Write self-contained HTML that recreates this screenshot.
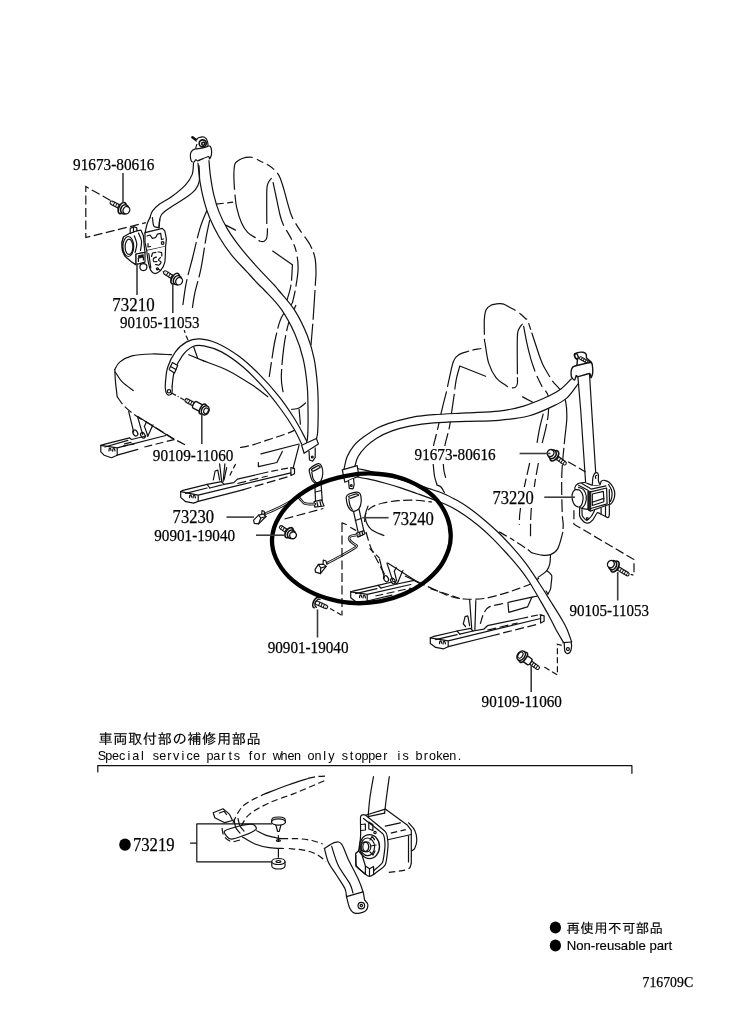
<!DOCTYPE html>
<html lang="ja">
<head>
<meta charset="utf-8">
<title>716709C</title>
<style>
html,body{margin:0;padding:0;background:#fff;}
body{width:729px;height:1032px;overflow:hidden;position:relative;}
svg{position:absolute;left:0;top:0;display:block;filter:grayscale(1);}
.num{font-family:"Liberation Serif",serif;fill:#000;stroke:#000;stroke-width:0.25;}
.jp{font-family:"Liberation Sans","IPAGothic","Noto Sans CJK JP",sans-serif;fill:#000;stroke:#000;stroke-width:0.15;}
.mono{font-family:"Liberation Mono","IPAGothic",monospace;fill:#000;}
.l{fill:none;stroke:#111;stroke-width:1.2;stroke-linecap:round;stroke-linejoin:round;}
.d{fill:none;stroke:#111;stroke-width:1.2;stroke-dasharray:9 3.5;}
.dl{fill:none;stroke:#111;stroke-width:1.2;stroke-dasharray:22 4;}
.w{fill:#fff;stroke:#111;stroke-width:1.2;stroke-linejoin:round;}
</style>
</head>
<body>
<svg width="729" height="1032" viewBox="0 0 729 1032">
<rect width="729" height="1032" fill="#fff"/>
<g id="seat1">
<path class="d" d="M267.5 228.2 C267.4 229.8 267.4 235.6 266.8 237.8 C266.2 240 265.2 240.6 264.1 241.2 C263 241.8 261.2 241.6 260 241.2 C258.8 240.8 258.7 240 256.6 238.5 C254.5 237 250.1 234.9 247.6 232.3 C245.1 229.7 243.3 226.8 241.5 222.7 C239.7 218.6 237.8 212.4 236.7 207.6 C235.6 202.8 235.4 198.9 234.9 193.9 C234.4 188.9 234 182.2 233.9 177.4 C233.8 172.6 234.1 167.7 234.6 165.1 C235.1 162.5 235.3 162.8 236.7 161.7 C238.1 160.5 240.6 159 242.8 158.2 C245 157.4 247.8 157.1 249.7 157.1 C251.6 157.1 252.5 157.4 254.5 158.2 C256.5 159 259.2 160.5 261.5 161.7 C263.8 162.8 265.9 163.6 268.2 165.1 C270.5 166.6 273.2 168.5 275.1 170.6 C277.1 172.7 278.4 174.2 279.9 177.4 C281.4 180.6 282.6 185.2 284 189.8 C285.4 194.4 286.7 200.3 288.1 204.9 C289.5 209.5 290.1 212.9 292.2 217.2 C294.2 221.5 297.4 226.3 300.4 230.9 C303.4 235.5 307.6 240.2 310 244.7 C312.4 249.2 314 253.4 315 258 C316 262.6 315.9 267.8 316 272 C316.1 276.2 315.8 276 315.4 283.2 C315 290.4 314.1 305 313.4 315.3 C312.7 325.6 311.4 340.1 311 345" style="stroke-dasharray:20 4 50 5 46 4.5 7 4 9 4.5 49 5 11 5 14 4 34 4 30 4 40 4"/>
<path class="d" d="M266.8 224.1 C266.8 218.6 266.6 198.1 266.8 191.2 C267 184.3 267.4 185.1 268.2 182.9 C269 180.7 271 178.9 271.6 178.1" style="stroke-dasharray:60 4"/>
<path class="d" d="M273 182.2 C273.6 184.8 275.2 192.6 276.4 198 C277.5 203.4 278.8 210 279.9 214.5 C281 219 281.5 220.9 283.3 224.8 C285.1 228.7 288.7 233.4 290.8 237.8 C292.9 242.2 294.9 246 296.1 251.1 C297.3 256.2 298.2 262.2 298.1 268.4 C298 274.6 296.6 282.3 295.6 288.1 C294.7 293.9 292.9 300.5 292.4 303" style="stroke-dasharray:45 5 11 5 8 5 30 4 26 4"/>
<path class="l" d="M272.7 251.1 L292.4 264.7"/>
<path class="d" d="M292.4 264.7 C292.2 268.1 291.9 279.1 291 285 C290.1 290.9 287.7 297.5 287 300" style="stroke-dasharray:16 4"/>
<path class="d" d="M292.4 303 C290.5 305.5 284.2 311.6 281.3 317.8 C278.4 324 276.8 332.6 275.1 340 C273.5 347.4 272.4 356.1 271.4 362.3 C270.4 368.5 269.6 374.6 269.2 377" style="stroke-dasharray:30 4 26 4"/>
<path class="d" d="M296 305 C294.8 307.9 290.7 315.6 288.7 322.7 C286.7 329.8 285 338.3 283.8 347.4 C282.6 356.5 281.4 369.7 281.3 377.1 C281.2 384.6 282.8 389.6 283.1 392.1" style="stroke-dasharray:28 4 30 4"/>
<path class="d" d="M207 210 C205.8 213.1 202.2 220.7 199.8 228.8 C197.4 236.9 194.7 249.4 192.4 258.5 C190.1 267.6 187.8 275 186.2 283.2 C184.5 291.4 183.1 303.8 182.5 307.9" style="stroke-dasharray:30 4 34 4 26 4"/>
<path class="d" d="M209.7 220.2 C209.1 223.3 207.3 230.7 205.9 238.7 C204.5 246.7 202.8 259.3 201 268.4 C199.2 277.5 196.2 286.5 194.8 293.1 C193.4 299.7 192.8 305.4 192.4 307.9" style="stroke-dasharray:24 4 30 4 30 4"/>
<path class="d" d="M215.8 204.1 L233.1 202.2" style="stroke-dasharray:8 3.5"/>
<path class="l" d="M225.7 225.1 L235.6 230.1"/>
<path class="l" d="M114.8 369.5 C115.6 368.3 116.8 364.4 119.7 362.1 C122.6 359.8 126.7 357.2 132 355.9 C137.3 354.5 145.2 354.2 151.8 354 C158.4 353.8 168.2 354.6 171.5 354.7"/>
<path class="l" d="M114.8 369.5 C114.9 371.6 115.1 377.4 115.5 381.9 C115.9 386.4 116.9 394.2 117.2 396.7"/>
<path class="l" d="M115.2 372 C116.4 373.6 119.2 378.8 122.2 381.9 C125.2 385 131.5 389.1 133.3 390.5"/>
<path class="d" d="M117.2 396.7 C118.4 398.3 121.3 403.2 124.6 406.5 C127.9 409.8 132.1 413 137 416.4 C141.9 419.8 148.6 423.3 154.3 426.8 C160.1 430.3 166.4 434.4 171.5 437.4 C176.6 440.4 182.8 443.6 185.1 444.8"/>
<path class="d" d="M240 447.5 C242.2 447.1 248.4 446.1 253 444.8 C257.6 443.5 263.3 441.4 267.8 439.9 C272.3 438.4 276 437.4 280 436 C284 434.6 288.4 433.1 291.7 431.6 C295 430.1 298.6 427.8 300 427"/>
<path class="l" d="M193.8 347.3 L197.5 357.7"/>
<path class="l" d="M188.8 354.7 L203.6 360.9"/>
<path class="l" d="M203.6 360.9 C207.7 362.5 220.1 366.6 228.3 370.7 C236.5 374.8 246.4 381.3 253 385.6 C259.6 389.9 265.3 394.9 267.8 396.7"/>
<path class="l" d="M184.3 330.5 L185 332.5"/>
<path class="l" d="M186.2 336 L188 340"/>
<path class="l" d="M291.7 409.4 C292.9 409.2 296.7 409.1 299 408 C301.3 406.9 304.4 403.8 305.5 403"/>
<path class="l" d="M299.1 409.4 L300.4 424.2"/>
<path class="l" d="M260.9 453.8 L299.1 444"/>
<path class="l" d="M258.4 462.5 L258.4 466.7 L276.9 462.5 L282.3 451.4"/>
<path class="l" d="M299.1 445.2 L293 468.6"/>
<path class="l" d="M137.8 416.5 L174 439.6"/>
<path class="l" d="M128.7 411.6 L133.7 432.2"/>
<path class="l" d="M137.8 417.3 L142.7 434.6"/>
<path class="l" d="M144.4 426.4 L147.7 435.5"/>
<path class="l" d="M151.8 427.2 L147.7 436.5"/>
<path class="l" d="M144.4 426.4 L146.5 421.8"/>
<path class="l" d="M151.8 427.2 L153 425"/>
<ellipse class="l" cx="135.3" cy="433" rx="2.2" ry="3.2" transform="rotate(-30 135.3 433)"/>
<ellipse class="l" cx="142.9" cy="435.3" rx="2" ry="3" transform="rotate(-30 142.9 435.3)"/>
<path class="l" d="M117.2 447.8 L100.8 445.3 L100.8 451.9 L104.1 455.2 L111.5 457.7 L117.2 455.2 L117.2 447.8 L165.8 435.5"/>
<path class="l" d="M100.8 445.3 L104.9 444.2 L129.6 437.9"/>
<path class="l" d="M104.9 447 L127.9 440.4"/>
<path class="l" d="M117.2 455.2 L137.8 449.4"/>
<path class="d" d="M144.4 447 L174 439.6" style="stroke-dasharray:8 3.5"/>
<path class="d" d="M123 446.2 L134.5 443.8" style="stroke-dasharray:5 2.5"/>
<path class="l" d="M124.5 443.8 L131 442.3"/>
<path class="l" d="M109 451 C109 450.6 109 449.2 109.2 448.8 C109.5 448.4 110.2 448.1 110.5 448.4 C110.8 448.7 110.9 450.1 111 450.5"/>
<path class="l" d="M112.6 451.2 C112.7 450.8 112.7 449.4 113 449 C113.3 448.6 114 448.4 114.3 448.7 C114.6 449 114.9 450.6 115 451"/>
<path class="l" d="M129.6 437.9 L131.5 439.5 L146 436"/>
<path class="l" d="M198.2 495.1 L180.7 491.6 L180.7 497.4 L185.7 501.7 L193.7 503.1 L198.2 501.4 L198.2 495.1 L290.9 472.8"/>
<path class="l" d="M180.7 491.6 L183 490.3 L207.1 484.4 L221.4 481.7 L224 484.4 L209.8 488"/>
<path class="l" d="M207.1 484.4 L209.8 488"/>
<path class="l" d="M224 484.4 L233.8 482.6 L237.4 479.1 L268 472"/>
<path class="d" d="M271.3 471.4 L290.9 467.5" style="stroke-dasharray:7 3"/>
<path class="l" d="M290.9 467.5 L294.5 468.4 L294.5 473.7 L290.9 475.5 L290.9 467.5"/>
<path class="l" d="M185.7 493.3 L207.1 488"/>
<path class="l" d="M198.2 501.4 L242.8 489.8"/>
<path class="d" d="M242.8 489.8 L289.1 476.4" style="stroke-dasharray:9 3.5"/>
<path class="d" d="M237.4 483.5 L267.7 476" style="stroke-dasharray:9 3.5"/>
<path class="l" d="M189.5 497.6 C189.6 497.2 189.6 495.8 189.8 495.4 C190.1 495 190.7 494.7 191 495 C191.3 495.3 191.5 496.8 191.6 497.2"/>
<path class="l" d="M193 498 C193.1 497.6 193.1 496.2 193.4 495.8 C193.7 495.4 194.4 495.1 194.7 495.4 C195 495.7 195.3 497.4 195.4 497.8"/>
<path class="l" d="M213.3 480 L215.1 471 L217.8 470.2 L219.6 480"/>
<path class="l" d="M219.6 463.9 L221.7 481.7"/>
<path class="l" d="M224.9 463.9 L223.1 481.7"/>
<path class="l" d="M226.7 467.5 L224 480"/>
<path class="d" d="M235.6 463.9 L229.4 476.4" style="stroke-dasharray:5 3"/>
</g>
<g id="seat2">
<path class="d" d="M517.4 377.3 C517.4 378.3 517.7 381.9 517.4 383.5 C517.1 385.1 516.6 386.5 515.4 387.2 C514.2 387.9 511.8 387.9 510.2 387.6 C508.6 387.3 508.5 387.2 506.1 385.5 C503.7 383.8 498.7 381.1 495.8 377.3 C492.9 373.5 490.4 368.5 488.6 362.9 C486.8 357.2 485.8 347.3 485.1 343.4 C484.4 339.4 484.6 343.1 484.5 339.2 C484.4 335.3 484.1 324.9 484.3 320 C484.6 315.1 484.9 312.5 486 310 C487.1 307.5 488.7 306.3 491 305.2 C493.3 304.1 497.8 303.8 500 303.6 C502.2 303.5 502.5 303.7 504 304.3 C505.5 304.9 507 305.8 509.2 307 C511.4 308.2 515.5 310.3 517.4 311.5 C519.3 312.7 519.1 312.8 520.5 314 C521.9 315.2 524.5 317.6 525.7 318.7 C526.9 319.8 526.5 317.8 527.7 320.7 C528.9 323.6 531 330.5 532.9 336.2 C534.8 341.9 537.5 350.2 539 354.7 C540.5 359.1 541.1 360.5 542.1 362.9 C543.1 365.3 543.7 366.2 545.2 369 C546.8 371.8 550 377.2 551.4 379.4 C552.8 381.6 551.8 380.3 553.5 382.4 C555.2 384.4 559.7 388.6 561.7 391.7 C563.7 394.8 564.8 396.7 565.6 401.2 C566.5 405.7 567 411.5 566.8 418.5 C566.6 425.5 565.1 433.7 564.3 443.2 C563.5 452.7 562.1 463.8 561.8 475.3 C561.4 486.8 562 504.3 562.2 512.4 C562.4 520.5 563.1 520.7 563.2 524 C563.3 527.3 562.9 530.9 562.8 532.3" style="stroke-dasharray:14 4.5 56 4 58 5 10 4 7 3 48 4.5 12 4 52 4 13 4 13 4 13 4 13 4 13 4 13 4 13 4"/>
<path class="d" d="M517.4 374.2 C517.4 367.9 517 343.9 517.4 336.2 C517.8 328.5 518.6 330 519.5 327.9 C520.4 325.8 522.1 324.5 522.6 323.8" style="stroke-dasharray:60 4"/>
<path class="d" d="M523.6 325.9 C524.1 328.6 525.5 336.8 526.7 342.3 C527.9 347.8 529.4 354 530.8 358.8 C532.2 363.6 533.9 368.2 534.9 371.1 C535.9 374 535.8 373.7 537 376.3 C538.2 378.9 540.2 383.3 542.1 386.6 C544 389.9 547.3 391.8 548.3 396.3 C549.3 400.8 548.7 408.2 548.3 413.6 C547.9 419 546.8 423.5 545.8 428.4 C544.8 433.3 542.7 440.7 542.1 443.2" style="stroke-dasharray:47 5 12 5 30 4 30 4"/>
<path class="d" d="M543.3 413.6 C542.7 416.1 540.6 423.5 539.6 428.4 C538.6 433.3 537.4 440.7 537 443.1" style="stroke-dasharray:30 4"/>
<path class="l" d="M522.6 396.9 L536 404"/>
<path class="d" d="M529.7 463 C529.2 465.3 527.4 473 526.5 477 C525.6 481 524.7 485.3 524.3 487" style="stroke-dasharray:12 4"/>
<path class="d" d="M520.5 508 C520.4 509.3 519.8 513.2 519.6 516 C519.4 518.8 519.4 523.2 519.4 524.7" style="stroke-dasharray:12 4"/>
<path class="d" d="M538.4 463 C538 465.3 536.5 473 535.8 477 C535.1 481 534.5 485.3 534.3 487" style="stroke-dasharray:12 4"/>
<path class="d" d="M531.3 508 C531.2 510.3 530.7 517.1 530.6 522 C530.5 526.9 530.5 534.6 530.5 537.1" style="stroke-dasharray:12 4"/>
<path class="d" d="M481.4 348.5 C479.9 348.8 474.2 349.7 472.2 350.1 C470.1 350.5 471.3 350.2 469.1 351 C466.9 351.8 461.4 353.1 458.8 354.7 C456.2 356.3 455.2 357 453.7 360.8 C452.1 364.6 450.7 372.2 449.5 377.3 C448.3 382.4 447.2 388.6 446.5 391.7 C445.8 394.8 446.3 392.4 445.4 395.8 C444.5 399.2 442.5 407.2 441.3 412.3 C440.1 417.4 439.4 421.6 438.2 426.7 C437 431.8 434.9 439.9 434.1 443.1 C433.3 446.3 433.7 445.5 433.6 446" style="stroke-dasharray:9 3.5 46 4.5 40 4 30 4"/>
<path class="d" d="M433.2 464 C433.4 466 433.9 472.5 434.5 476 C435.1 479.5 436.7 483.7 437.1 485.2" style="stroke-dasharray:30 4"/>
<path class="d" d="M459.8 366 C459.3 367.9 457.6 373.4 456.7 377.3 C455.8 381.2 455.1 386.9 454.7 389.7 C454.3 392.4 454.8 390 454.3 393.8 C453.8 397.6 452.4 406.8 451.6 412.3 C450.8 417.8 450.5 421.6 449.5 426.7 C448.5 431.8 446.2 439.9 445.4 443.1 C444.6 446.3 444.9 445.5 444.8 446" style="stroke-dasharray:24 4.5 36 4 30 4"/>
<path class="d" d="M443.3 464 C443.4 465.2 443.6 468.7 444 471 C444.4 473.3 445.4 476.7 445.7 477.8" style="stroke-dasharray:30 4"/>
<path class="l" d="M459.8 366 L485.6 376.3"/>
<path class="l" d="M437.1 485.2 C437.8 485.5 439.8 485.8 441 487 C442.2 488.2 443.9 491.7 444.5 492.6"/>
<path class="l" d="M562.8 532.3 C562 535 559.9 544.7 557.9 548.4 C555.9 552.1 553.2 553.5 550.5 554.6 C547.8 555.7 545.1 555.5 541.9 555.2 C538.7 554.9 533.1 553.1 531.4 552.7"/>
<path class="d" d="M531.4 552.7 C530.7 552.1 529.8 551 527 549 C524.2 547 518.8 543.6 514.7 541 C510.6 538.4 505.2 535.2 502.3 533.6 C499.4 532 498.2 531.5 497.4 531.1" style="stroke-dasharray:5 3.5 9 3.5"/>
<path class="d" d="M364.6 522 C364.8 520.5 364.8 515.5 366 513 C367.2 510.5 369.2 508.7 372 507 C374.8 505.3 378.7 504.1 383 503 C387.3 501.9 392.6 501.2 397.9 500.7 C403.2 500.2 409.3 500 415 500.2 C420.7 500.4 429.2 501.7 432 502"/>
<path class="l" d="M368 506.1 C367.5 508 364.7 513.8 365.2 517.6 C365.7 521.4 367.8 526.1 370.9 529.1 C374 532.1 381.7 534.4 383.9 535.5"/>
<path class="d" d="M366 532 C366.8 534.7 369 543 371 548 C373 553 375.7 557.5 378 562 C380.3 566.5 383.8 572.8 385 575"/>
<path class="d" d="M405 576 C409.1 577.9 422.2 584.1 429.6 587.4 C437 590.7 443.6 594.1 449.4 596 C455.2 597.9 458.4 598.6 464.2 599 C470 599.4 477.4 599.4 484 598.5 C490.6 597.6 497.9 595.2 503.7 593.6 C509.4 592 514 590.2 518.5 588.6 C523 587 527.5 585.5 530.9 583.7 C534.3 581.9 537.6 579 539 578"/>
<path class="l" d="M550.5 554.6 C550.4 556 550.5 560.5 549.9 563.2 C549.3 565.9 548.8 568.2 546.8 570.6 C544.8 573 539.5 576.3 538.1 577.4"/>
<path class="l" d="M546.8 570.6 C547.4 571.2 551.2 574 551.7 575.6 C552.2 577.2 551.2 582.6 551.1 584.2 C551 585.8 550.9 587.9 550.5 589.1 C550.1 590.3 548.3 593.5 548 594.1"/>
<path class="l" d="M548 594.1 L546 591"/>
<path class="d" d="M480.3 623.9 C480.9 622.1 482.3 616 483.8 613.2 C485.3 610.4 485.9 608.5 489.2 606.9 C492.5 605.3 501.1 604 503.5 603.4" style="stroke-dasharray:9 3.5"/>
<path class="l" d="M507.9 602.5 L508.8 612.3 L527.5 606.9 L532 597.1 L507.9 602.5"/>
<path class="d" d="M532 597.1 L546 594.5" style="stroke-dasharray:6 3"/>
<path class="l" d="M469.6 599.8 L471.7 628.3"/>
<path class="l" d="M475.8 600.7 L474.9 630.1"/>
<path class="l" d="M463.3 623.9 L465.1 616.7 L467.8 615.9 L469.6 625.7"/>
<path class="l" d="M463.3 623.9 L465.5 626.5"/>
<path class="d" d="M369.6 548.3 L379.5 558.2" style="stroke-dasharray:6 3"/>
<path class="l" d="M387.7 563.1 L412.4 578.7 L420.7 583.7"/>
<path class="l" d="M379.5 559 L384.4 577.9"/>
<path class="l" d="M386.9 563.1 L392.7 580.4"/>
<path class="l" d="M394.3 571.3 L396.8 581.2"/>
<path class="l" d="M401.7 573 L397.6 582.9"/>
<path class="l" d="M394.3 571.3 L396.2 567.5"/>
<path class="l" d="M401.7 573 L403 570.5"/>
<ellipse class="l" cx="386.1" cy="578.7" rx="2.2" ry="3.2" transform="rotate(-30 386.1 578.7)"/>
<ellipse class="l" cx="393" cy="581" rx="2" ry="3" transform="rotate(-30 393 581)"/>
<path class="d" d="M430.5 588.6 L460 598.5" style="stroke-dasharray:8 3.5"/>
<path class="l" d="M367.2 594.4 L350.7 591.9 L350.7 597.7 L355.6 601.5 L363 602.3 L367.2 601 L367.2 594.4 L410.8 584.5"/>
<path class="l" d="M350.7 591.9 L354 590.8 L377.9 585.3 L394.3 581.5 L397 584 L381 588"/>
<path class="l" d="M377.9 585.3 L381 588"/>
<path class="l" d="M397 584 L414.1 580.4 L420.7 583.7"/>
<path class="l" d="M355.6 593.7 L377 588.7"/>
<path class="l" d="M367.2 601 L392 595.2"/>
<path class="d" d="M375.4 596 L410.8 588.1" style="stroke-dasharray:8 3.5"/>
<path class="l" d="M359.5 597.6 C359.6 597.2 359.6 595.8 359.8 595.4 C360.1 595 360.7 594.7 361 595 C361.3 595.3 361.5 596.8 361.6 597.2"/>
<path class="l" d="M363 598 C363.1 597.6 363.1 596.2 363.4 595.8 C363.7 595.4 364.4 595.1 364.7 595.4 C365 595.7 365.3 597.4 365.4 597.8"/>
<path class="l" d="M448.2 640.8 L430.3 637.8 L430.3 643.5 L435.7 647.4 L443.7 648.8 L448.2 646.7 L448.2 640.8 L540.6 618.5"/>
<path class="l" d="M430.3 637.8 L433 636.7 L457.1 631 L470.5 628.3 L473.1 631 L459.8 634.2"/>
<path class="l" d="M457.1 631 L459.8 634.2"/>
<path class="l" d="M473.1 631 L483.8 629.2 L487.4 625.7 L521.3 618.5"/>
<path class="d" d="M521.3 618.5 L540 614.6" style="stroke-dasharray:7 3"/>
<path class="l" d="M540 614.6 L544.1 615.9 L544.1 621.2 L540.6 623 L540.6 614.8"/>
<path class="l" d="M435.7 639.6 L457.1 634.6"/>
<path class="l" d="M448.2 646.7 L491 636"/>
<path class="d" d="M491 636 L539.1 623.9" style="stroke-dasharray:9 3.5"/>
<path class="d" d="M487.4 630.1 L517.7 623" style="stroke-dasharray:9 3.5"/>
<path class="l" d="M439.5 643.6 C439.6 643.2 439.6 641.8 439.8 641.4 C440.1 641 440.7 640.7 441 641 C441.3 641.3 441.5 642.8 441.6 643.2"/>
<path class="l" d="M443 644 C443.1 643.6 443.1 642.2 443.4 641.8 C443.7 641.4 444.4 641.1 444.7 641.4 C445 641.7 445.3 643.4 445.4 643.8"/>
</g>
<g id="belt1">
<path class="w" d="M198 163.2 C198.3 166.4 199.1 176 200.1 182.4 C201.1 188.8 202.6 195.7 204.2 201.6 C205.8 207.5 207.2 212.1 209.7 218.1 C212.2 224.1 215.7 231.1 219.3 237.3 C223 243.5 227 249.4 231.6 255.1 C236.2 260.8 242.1 266.6 246.7 271.6 C251.3 276.6 256.1 281.9 259.1 285 C262.1 288.1 261 286.5 264.7 290.5 C268.4 294.5 276.2 302 281.2 309.2 C286.2 316.4 291.2 325.7 294.9 333.9 C298.5 342.1 301.1 349.9 303.1 358.6 C305.2 367.3 306.4 377.5 307.2 386 C308 394.5 307.9 401.4 308 409.4 C308.1 417.4 308.1 428.3 307.8 434.1 C307.6 439.9 306.7 442.4 306.5 444 L316.4 439 C316.6 437.8 317.4 436.5 317.7 431.6 C318 426.7 318.2 417 318.2 409.4 C318.2 401.8 318.2 394.5 317.5 386 C316.8 377.5 315.8 367.1 314.1 358.6 C312.4 350.2 310.4 343.3 307.2 335.3 C304 327.3 299.7 318.2 294.9 310.6 C290.1 303.1 281.8 294.3 278.4 290 C274.9 285.7 277.9 289 274.2 285 C270.5 281 262 272.5 256.3 266.1 C250.6 259.8 244.7 253.1 239.9 246.9 C235.1 240.7 230.9 234.8 227.5 229.1 C224.1 223.4 221.6 218.3 219.3 212.6 C217 206.9 215.3 201 213.8 194.8 C212.3 188.6 211.2 181.3 210.4 175.6 C209.6 169.9 209.2 163 209 160.5Z" style="stroke:none"/>
<path class="l" d="M198 163.2 C198.3 166.4 199.1 176 200.1 182.4 C201.1 188.8 202.6 195.7 204.2 201.6 C205.8 207.5 207.2 212.1 209.7 218.1 C212.2 224.1 215.7 231.1 219.3 237.3 C223 243.5 227 249.4 231.6 255.1 C236.2 260.8 242.1 266.6 246.7 271.6 C251.3 276.6 256.1 281.9 259.1 285 C262.1 288.1 261 286.5 264.7 290.5 C268.4 294.5 276.2 302 281.2 309.2 C286.2 316.4 291.2 325.7 294.9 333.9 C298.5 342.1 301.1 349.9 303.1 358.6 C305.2 367.3 306.4 377.5 307.2 386 C308 394.5 307.9 401.4 308 409.4 C308.1 417.4 308.1 428.3 307.8 434.1 C307.6 439.9 306.7 442.4 306.5 444"/>
<path class="l" d="M209 160.5 C209.2 163 209.6 169.9 210.4 175.6 C211.2 181.3 212.3 188.6 213.8 194.8 C215.3 201 217 206.9 219.3 212.6 C221.6 218.3 224.1 223.4 227.5 229.1 C230.9 234.8 235.1 240.7 239.9 246.9 C244.7 253.1 250.6 259.8 256.3 266.1 C262 272.5 270.5 281 274.2 285 C277.9 289 274.9 285.7 278.4 290 C281.8 294.3 290.1 303.1 294.9 310.6 C299.7 318.2 304 327.3 307.2 335.3 C310.4 343.3 312.4 350.2 314.1 358.6 C315.8 367.1 316.8 377.5 317.5 386 C318.2 394.5 318.2 401.8 318.2 409.4 C318.2 417 318 426.7 317.7 431.6 C317.4 436.5 316.6 437.8 316.4 439"/>
<path class="l" d="M193.5 163.3 C193.3 165.2 193.4 170.9 192.2 174.4 C190.9 177.9 189.3 180.7 186 184.3 C182.7 188 176.7 192.9 172.2 196.3 C167.7 199.7 162.3 202.1 159 204.6 C155.7 207.1 153.9 209 152.4 211.2 C150.9 213.4 150.4 216.6 150 217.7"/>
<path class="l" d="M199 165.7 C199.1 168.2 199.9 177 199.3 181 C198.7 185 197.5 187 195.2 189.8 C192.9 192.6 189.1 195.3 185.3 198 C181.5 200.7 176 203.6 172.2 206.2 C168.4 208.8 164.4 211.4 162.3 213.6 C160.2 215.8 160.4 217.2 159.8 219.4 C159.2 221.6 159.1 225.6 159 226.8"/>
<path class="w" d="M190.4 157.1 C190.3 156.2 190.6 153 191 152.2 C191.4 151.4 192.8 149.7 194.7 149.1 C196.5 148.5 207.8 145.9 209.5 146 C211.2 146.1 211.2 148.8 211.4 149.7 C211.6 150.6 211.6 154.3 211.4 155.2 C211.2 156.1 209.8 158.9 209.5 159 C209.2 159.1 209.5 156.3 208.3 156.5 C207.1 156.7 199 160.5 197.8 160.8 C196.6 161.1 196.3 159.5 195.9 159.6 C195.5 159.7 194.5 161.8 194.1 162 C193.7 162.2 192 161.9 191.6 161.4 C191.2 160.9 190.5 158 190.4 157.1Z"/>
<path class="l" d="M192.4 137.3 L197 140.6" style="stroke-width:2.6"/>
<path class="w" d="M196.5 140 C196.7 139.7 197.6 138.1 198.5 137.8 C199.4 137.5 203.5 136.8 204.5 137.2 C205.5 137.6 207.1 140.4 207.4 141.5 C207.7 142.6 208.7 145.6 207.4 146.5 C206.1 147.4 197.4 149.1 196.2 148.8 C195 148.5 196.9 144.6 197 144"/>
<circle class="l" cx="202.7" cy="143.4" r="3.5" style="stroke-width:1.7"/><circle cx="203.2" cy="143.8" r="1.5" class="l" style="stroke-width:1.5"/>
<path class="w" d="M165.5 381.6 C165.9 379.2 166 372.2 167.7 367.3 C169.3 362.4 172.3 356.1 175.4 351.9 C178.5 347.7 182.3 344.3 186.3 342.1 C190.3 339.9 194.4 338.6 199.5 338.8 C204.6 339 210.5 340.3 217.1 343.2 C223.7 346.1 232.1 351.2 239 356.3 C245.9 361.4 252.2 367.3 258.8 373.9 C265.4 380.5 272.6 388.5 278.5 395.8 C284.4 403.1 289.5 410.8 293.9 417.8 C298.3 424.8 302.8 433.7 304.9 437.6 C307 441.5 306.2 440.4 306.5 441 L301.6 444.1 C300.3 441.6 297.4 434.7 293.9 428.8 C290.4 422.9 285.8 415.9 280.7 409 C275.6 402.1 269.4 394.1 263.2 387.1 C257 380.2 250.3 373.2 243.4 367.3 C236.5 361.4 228.1 355.5 221.5 351.9 C214.9 348.3 208.7 346.7 203.9 345.8 C199.1 344.9 196.6 344.8 192.9 346.5 C189.2 348.2 185 352.1 181.9 356.3 C178.8 360.5 175.9 366.7 174.3 371.7 C172.7 376.7 172.5 384 172.1 386.5Z" style="stroke:none"/>
<path class="l" d="M165.5 381.6 C165.9 379.2 166 372.2 167.7 367.3 C169.3 362.4 172.3 356.1 175.4 351.9 C178.5 347.7 182.3 344.3 186.3 342.1 C190.3 339.9 194.4 338.6 199.5 338.8 C204.6 339 210.5 340.3 217.1 343.2 C223.7 346.1 232.1 351.2 239 356.3 C245.9 361.4 252.2 367.3 258.8 373.9 C265.4 380.5 272.6 388.5 278.5 395.8 C284.4 403.1 289.5 410.8 293.9 417.8 C298.3 424.8 302.8 433.7 304.9 437.6 C307 441.5 306.2 440.4 306.5 441"/>
<path class="l" d="M172.1 386.5 C172.5 384 172.7 376.7 174.3 371.7 C175.9 366.7 178.8 360.5 181.9 356.3 C185 352.1 189.2 348.2 192.9 346.5 C196.6 344.8 199.1 344.9 203.9 345.8 C208.7 346.7 214.9 348.3 221.5 351.9 C228.1 355.5 236.5 361.4 243.4 367.3 C250.3 373.2 257 380.2 263.2 387.1 C269.4 394.1 275.6 402.1 280.7 409 C285.8 415.9 290.4 422.9 293.9 428.8 C297.4 434.7 300.3 441.6 301.6 444.1"/>
<path class="w" d="M169 369.5 L172.5 362.5 L177.7 365.5 L174.5 373 L169 369.5"/>
<path class="l" d="M170.5 366.5 L176 369.5"/>
<path class="l" d="M165.5 381.6 C165.5 382.7 165.1 386 165.3 388 C165.5 390 165.8 392.3 166.5 393.5 C167.2 394.7 168.6 395.2 169.5 395 C170.4 394.8 171.6 393.9 172 392.5 C172.4 391.1 172.1 387.5 172.1 386.5"/>
<circle class="l" cx="169" cy="391.3" r="1.7"/>
<path class="w" d="M301.6 445.2 L316.4 438.5 L318.4 444 L304.1 453.3Z"/>
<path class="w" d="M309 451 L309.5 460 L312.7 461.2 L315.2 457.5 L315.2 447.5"/>
<circle class="l" cx="312.3" cy="457" r="0.9"/>
</g>
<g id="belt2">
<path class="w" d="M343.8 470 C344.4 467.8 345.5 460.8 347.1 456.8 C348.8 452.8 351 449.1 353.7 445.8 C356.4 442.5 359.3 440.2 363.5 437.1 C367.7 434 373.8 429.8 378.9 427.2 C384 424.6 388.8 423.3 394.3 421.7 C399.8 420.1 405.2 418.5 411.8 417.3 C418.4 416.1 424.7 415.4 433.8 414.7 C442.9 414 455.9 413.5 466.7 412.9 C477.5 412.3 489.3 412.2 498.8 411.1 C508.3 410 515.2 408.6 523.5 406.1 C531.8 403.6 542.1 399.2 548.3 396.3 C554.5 393.4 557.1 391.9 560.9 389 C564.7 386.1 569.5 380.7 571.2 379 L578.4 383.5 C576.5 385.9 571.2 394.1 567 397.9 C562.8 401.7 559.6 403.1 553.2 406.1 C546.8 409.1 537.6 413.6 528.5 416 C519.4 418.4 509.1 419.4 498.8 420.3 C488.5 421.2 477.5 420.9 466.7 421.3 C455.9 421.7 443.3 422 433.8 422.8 C424.3 423.6 416.6 424.8 409.6 426.1 C402.7 427.5 397.6 428.9 392.1 430.9 C386.6 432.9 381.1 435.5 376.7 438.2 C372.3 440.9 368.8 443.8 365.7 446.9 C362.6 450 359.8 453.5 358 456.8 C356.2 460.1 355.3 465.1 354.8 466.7Z" style="stroke:none"/>
<path class="l" d="M343.8 470 C344.4 467.8 345.5 460.8 347.1 456.8 C348.8 452.8 351 449.1 353.7 445.8 C356.4 442.5 359.3 440.2 363.5 437.1 C367.7 434 373.8 429.8 378.9 427.2 C384 424.6 388.8 423.3 394.3 421.7 C399.8 420.1 405.2 418.5 411.8 417.3 C418.4 416.1 424.7 415.4 433.8 414.7 C442.9 414 455.9 413.5 466.7 412.9 C477.5 412.3 489.3 412.2 498.8 411.1 C508.3 410 515.2 408.6 523.5 406.1 C531.8 403.6 542.1 399.2 548.3 396.3 C554.5 393.4 557.1 391.9 560.9 389 C564.7 386.1 569.5 380.7 571.2 379"/>
<path class="l" d="M354.8 466.7 C355.3 465.1 356.2 460.1 358 456.8 C359.8 453.5 362.6 450 365.7 446.9 C368.8 443.8 372.3 440.9 376.7 438.2 C381.1 435.5 386.6 432.9 392.1 430.9 C397.6 428.9 402.7 427.5 409.6 426.1 C416.6 424.8 424.3 423.6 433.8 422.8 C443.3 422 455.9 421.7 466.7 421.3 C477.5 420.9 488.5 421.2 498.8 420.3 C509.1 419.4 519.4 418.4 528.5 416 C537.6 413.6 546.8 409.1 553.2 406.1 C559.6 403.1 562.8 401.7 567 397.9 C571.2 394.1 576.5 385.9 578.4 383.5"/>
<path class="w" d="M357.5 468.5 C359.9 469.1 366.6 470.5 372 471.8 C377.4 473.1 383 474.3 390 476.3 C397 478.3 407.3 481.7 414 483.8 C420.7 485.9 425.1 487.2 430 488.9 C434.9 490.5 439.1 491.8 443.7 493.7 C448.3 495.6 452.8 498 457.4 500.6 C462 503.2 466.6 506.2 471.2 509.5 C475.8 512.8 480.3 516.6 484.9 520.5 C489.5 524.4 494 528.3 498.6 532.8 C503.2 537.2 507.7 542.1 512.3 547.2 C516.9 552.4 521.5 557.7 526 563.7 C530.5 569.8 535.1 577 539.4 583.5 C543.7 590 547.8 596.8 551.7 603 C555.6 609.2 560.2 616.5 562.8 621 C565.4 625.5 565.8 626.5 567.3 630 C568.8 633.5 570.9 639.8 571.6 641.7 L563.4 642.3 C562.2 640.2 558.6 634.3 556.2 630 C553.9 625.7 552.1 621.7 549.3 616.5 C546.5 611.3 542.9 605.1 539.4 599 C535.9 592.9 531.5 585.2 528.1 580 C524.7 574.8 523 572.5 519.2 567.8 C515.4 563.1 510 557 505.4 552 C500.8 547 496.3 542.1 491.7 537.6 C487.1 533.1 482.6 529.1 478 525.3 C473.4 521.5 468.9 518.1 464.3 515 C459.7 511.9 455 509 450.6 506.7 C446.2 504.4 443.8 503.5 438.2 501.3 C432.6 499.1 423.5 495.9 417.3 493.7 C411.1 491.5 406.3 489.7 400.8 487.9 C395.3 486.1 389.9 484.5 384.4 483 C378.9 481.5 373.4 480 367.9 478.9 C362.4 477.8 354.2 476.8 351.5 476.4Z" style="stroke:none"/>
<path class="l" d="M357.5 468.5 C359.9 469.1 366.6 470.5 372 471.8 C377.4 473.1 383 474.3 390 476.3 C397 478.3 407.3 481.7 414 483.8 C420.7 485.9 425.1 487.2 430 488.9 C434.9 490.5 439.1 491.8 443.7 493.7 C448.3 495.6 452.8 498 457.4 500.6 C462 503.2 466.6 506.2 471.2 509.5 C475.8 512.8 480.3 516.6 484.9 520.5 C489.5 524.4 494 528.3 498.6 532.8 C503.2 537.2 507.7 542.1 512.3 547.2 C516.9 552.4 521.5 557.7 526 563.7 C530.5 569.8 535.1 577 539.4 583.5 C543.7 590 547.8 596.8 551.7 603 C555.6 609.2 560.2 616.5 562.8 621 C565.4 625.5 565.8 626.5 567.3 630 C568.8 633.5 570.9 639.8 571.6 641.7"/>
<path class="l" d="M351.5 476.4 C354.2 476.8 362.4 477.8 367.9 478.9 C373.4 480 378.9 481.5 384.4 483 C389.9 484.5 395.3 486.1 400.8 487.9 C406.3 489.7 411.1 491.5 417.3 493.7 C423.5 495.9 432.6 499.1 438.2 501.3 C443.8 503.5 446.2 504.4 450.6 506.7 C455 509 459.7 511.9 464.3 515 C468.9 518.1 473.4 521.5 478 525.3 C482.6 529.1 487.1 533.1 491.7 537.6 C496.3 542.1 500.8 547 505.4 552 C510 557 515.4 563.1 519.2 567.8 C523 572.5 524.7 574.8 528.1 580 C531.5 585.2 535.9 592.9 539.4 599 C542.9 605.1 546.5 611.3 549.3 616.5 C552.1 621.7 553.9 625.7 556.2 630 C558.6 634.3 562.2 640.2 563.4 642.3"/>
<path class="w" d="M564.2 642.3 C564.3 643.5 564.4 649.5 564.8 651 C565.2 652.5 566.6 653.6 567.3 653.7 C568 653.8 569.8 652.6 570.4 651.6 C571 650.6 571.5 647.3 571.6 646 C571.7 644.7 571.1 642.3 571 641.7"/>
<path class="l" d="M563 642.6 L571.6 642"/>
<circle class="l" cx="567.9" cy="649.1" r="1.5"/>
<path class="w" d="M577.9 377 L589.5 374 L595.8 474 L585.6 482.3Z" style="stroke:none"/>
<path class="l" d="M577.9 377 L580.7 410 L585.6 482.3"/>
<path class="l" d="M589.5 374 L591.7 410 L595.8 474"/>
<path class="w" d="M576.8 365.8 C576.9 365 577.5 360.1 577.4 359.2 C577.3 358.3 576 358.5 575.7 358.1 C575.4 357.7 574.5 356 574.6 355.4 C574.7 354.8 575.8 353.4 576.8 353 C577.8 352.6 581.8 352.1 582.9 352.3 C584 352.5 585.8 353.6 586.2 354.3 C586.6 355 586.1 357.2 586.7 358.1 C587.3 359 590.4 361 591.1 362 C591.8 363 592.2 365.8 592.4 366.3" style="stroke-width:1.4"/>
<ellipse class="l" cx="576.3" cy="356.3" rx="1.7" ry="3" transform="rotate(-20 576.3 356.3)" style="stroke-width:1.4"/>
<path d="M580.7 358.1L589.3 363" style="fill:none;stroke:#111;stroke-width:3.6;stroke-linecap:round"/>
<path d="M580.7 358.1L589.3 363" style="fill:none;stroke:#fff;stroke-width:1.7;stroke-linecap:round"/>
<path d="M581.3 358.5L589.6 363.2" style="fill:none;stroke:#111;stroke-width:3.4;stroke-dasharray:1.1 1.1"/>
<path class="w" d="M571.3 376.2 C571.2 375.4 571.1 371.1 571.3 370.2 C571.5 369.3 572.5 367.3 573 366.9 C573.5 366.5 575.2 365.9 576.8 365.5 C578.4 365.1 589.2 362.5 590.6 362.5 C592 362.5 592.2 364.8 592.4 365.8 C592.6 366.8 592.8 371.8 592.7 372.9 C592.6 374 591.4 377.8 591.1 377.9 C590.8 378 590.7 373.6 589.5 373.5 C588.3 373.4 579.1 376.6 577.9 376.8 C576.7 377 576.6 375.4 576.3 375.7 C576 376 575 379.9 574.6 380.1 C574.2 380.3 572.7 378.8 572.4 378.4 C572.1 378 571.4 377 571.3 376.2Z" style="stroke-width:1.35"/>
<circle cx="576.5" cy="376" r="1" fill="#111"/>
<path class="w" d="M342.3 469.9 L357.2 465.7 L358.9 476 L344.8 482.2Z"/>
<path class="w" d="M348.5 481 L349.3 488.4 L353 488.9 L354.2 484.7 L353.5 478.5"/>
<circle class="l" cx="351.3" cy="485.5" r="0.9"/>
</g>
<g id="parts">
<g style="stroke-width:1.35">
<path class="l" d="M150 217.7 C149.6 218.5 148.2 220.8 147.5 222.7 C146.8 224.6 146.2 227.5 145.8 229.3 C145.4 231.1 145.1 232.7 145 233.4"/>
<path class="l" d="M152.4 217.7 C152.6 218.8 153 223 153.3 224.5 C153.7 226 153.6 226.3 154.5 226.8 C155.4 227.3 158.2 227.5 159 227.6"/>
<path class="l" d="M159.8 219.4 L159 227.6"/>
<path class="w" d="M145 232.6 L162.3 228.4 L164.8 230.9 L166.4 239.1 L165.6 246.5 L146.7 250.7 L145 242.4Z"/>
<path class="l" d="M147 236 L150 235 L152.4 238.3 L155.7 237.5 L157.4 234.2 L160.7 233.4 L161.5 239.5 L163.5 239"/>
<path class="l" d="M148 243.5 L148 247 L150.5 246.5"/>
<circle cx="162.6" cy="243" r="1.3" class="l"/>
<path class="w" d="M146.7 250.7 C146.9 252 147.8 259.9 148.3 262.2 C148.8 264.5 150 269.1 150.8 270.4 C151.6 271.7 153.7 273.7 154.9 273.7 C156.1 273.7 159.5 271.7 160.7 270.4 C161.9 269.1 164.2 265 164.8 262.2 C165.4 259.4 165.5 248.3 165.6 246.5"/>
<circle class="l" cx="157.4" cy="268.8" r="1"/>
<path class="l" d="M151.5 256.5 L152.5 253 L156 252.3"/>
<path class="l" d="M158 252 C158.6 252.1 160.9 251.8 161.5 252.5 C162.1 253.2 161.8 255.4 161.8 256"/>
<path class="l" d="M156.5 257 C156 257.2 153.9 257.8 153.5 258.5 C153.1 259.2 153.2 261 153.8 261.5 C154.4 262 156.5 261.5 157 261.5"/>
<path class="l" d="M160.5 257.5 C160.2 257.9 158.4 259.2 158.5 260 C158.6 260.8 160.9 261.2 161 262 C161.1 262.8 159.9 264.6 159 265 C158.1 265.4 156.1 264.6 155.5 264.5"/>
<path class="l" d="M148.8 253.5 L150.8 268"/>
<path class="w" d="M123.6 236.7 C123.4 237.5 122.1 240.5 122 242.4 C121.9 244.3 122.1 248.8 122.5 250.7 C122.9 252.6 124.2 255 125.3 256.4 C126.4 257.8 129.6 260.3 131 261.4 C132.4 262.5 135.3 264.3 136 264.7"/>
<path class="w" d="M123.6 236.7 L129.4 233.4 L130.2 233.4 L130.2 228.4 L134.3 226.8 L136.8 227.9 L136.8 230.9 L140.9 230.1 L143.4 235.8 L144.2 245.7 L145 252.3 L136 254 L136 264.7 L131 261.4 L125.3 256.4 L122.5 250.7 L122 242.4Z"/>
<path class="l" d="M130.2 233.4 L133.5 232 L136.8 230.9"/>
<path class="l" d="M133.5 232 L133.5 227.2"/>
<ellipse class="w" cx="128.3" cy="246.5" rx="5.4" ry="10"/>
<ellipse class="l" cx="129" cy="246.8" rx="3.9" ry="7.6"/>
<path class="l" d="M134.3 235.8 C134.7 237.2 136.7 241.3 136.8 244.1 C136.9 246.8 135.4 250.9 135.1 252.3"/>
<path class="l" d="M138.5 233 C139 234.3 141.2 238.1 141.5 241 C141.8 243.9 140.7 248.9 140.5 250.5"/>
<path class="w" d="M136 254 L145 252.3 L145 262.2 L136 264.7Z"/>
<path d="M138.4 255.6L143.4 254.6V257.3L138.4 258.3Z" fill="#111" stroke="#111" stroke-width="0.6"/>
<path class="l" d="M138.4 258.3 L138.4 261.5"/>
<path class="l" d="M143.4 257.3 L143.4 260"/>
<circle class="w" cx="143.4" cy="267.1" r="3.5"/>
</g>
<path class="d" d="M110.5 200.5 L85.8 186.5 L85.8 237.5 L145.8 222.7"/>
<g transform="translate(122.6 208.3) rotate(207.0)">
<path d="M2 0H12.0" style="fill:none;stroke:#111;stroke-width:4.7;stroke-linecap:round"/>
<path d="M2 0H12.0" style="fill:none;stroke:#fff;stroke-width:2.5;stroke-linecap:round"/>
<path d="M4.2 0H12.0" style="fill:none;stroke:#111;stroke-width:4.7;stroke-dasharray:1 1.5"/>
<ellipse class="w" cx="0.5" cy="0" rx="3.3" ry="6.0" style="stroke-width:1.7"/>
<ellipse class="w" cx="-2.2" cy="0" rx="3.8" ry="4.7" style="stroke-width:1.6"/>
<ellipse class="w" cx="-4.2" cy="0" rx="3.3" ry="3.8" style="stroke-width:1.3"/>
</g>
<path class="d" d="M157.4 268.8 L164 272.1" style="stroke-dasharray:4 2 1 2"/>
<g transform="translate(175.5 279.0) rotate(212.0)">
<path d="M2 0H12.0" style="fill:none;stroke:#111;stroke-width:4.7;stroke-linecap:round"/>
<path d="M2 0H12.0" style="fill:none;stroke:#fff;stroke-width:2.5;stroke-linecap:round"/>
<path d="M4.2 0H12.0" style="fill:none;stroke:#111;stroke-width:4.7;stroke-dasharray:1 1.5"/>
<ellipse class="w" cx="0.5" cy="0" rx="3.3" ry="6.0" style="stroke-width:1.7"/>
<ellipse class="w" cx="-2.2" cy="0" rx="3.8" ry="4.7" style="stroke-width:1.6"/>
<ellipse class="w" cx="-4.2" cy="0" rx="3.3" ry="3.8" style="stroke-width:1.3"/>
</g>
<path class="d" d="M171.5 393 L185.1 400.4" style="stroke-dasharray:5 2 1 2"/>
<g transform="translate(203.2 409.3) rotate(208.0)">
<path d="M9.5 0H18.5" style="fill:none;stroke:#111;stroke-width:4.8;stroke-linecap:round"/>
<path d="M9.5 0H18.5" style="fill:none;stroke:#fff;stroke-width:2.6;stroke-linecap:round"/>
<path d="M10.5 0H18.5" style="fill:none;stroke:#111;stroke-width:4.8;stroke-dasharray:1 1.5"/>
<path class="w" d="M0 -3.6H9.5A1.6 3.6 0 0 1 9.5 3.6H0Z" style="stroke-width:1.4"/>
<ellipse class="w" cx="0.5" cy="0" rx="2.6" ry="5.4" style="stroke-width:1.6"/>
<ellipse class="w" cx="-2.3" cy="0" rx="3.6" ry="4.8" style="stroke-width:1.5"/>
<ellipse class="l" cx="-3.2" cy="0" rx="2.2" ry="3.0" style="stroke-width:1.1"/>
</g>
<path class="w" d="M309.2 470.8 C309.1 469.2 310.6 467.9 311.7 467.1 C312.8 466.3 317.4 463.7 318.5 463.6 C319.6 463.5 321 464.8 321.5 465.9 C322 467 322.9 471.6 322.8 473.3 C322.7 475 321.6 479.6 320.9 480.7 C320.2 481.8 317.6 483.1 316.6 483.1 C315.6 483.1 313.2 482.1 312.3 480.7 C311.4 479.3 309.3 472.4 309.2 470.8Z"/>
<path class="l" d="M311.5 469.3 C311.9 468.8 317.6 465.9 318.3 465.7 C319 465.5 320.6 466.8 320.2 467.3 C319.8 467.8 313.9 471 313.2 471.2 C312.5 471.4 311.1 469.8 311.5 469.3Z"/>
<path class="l" d="M311.8 472 C312 473.2 312.4 477.2 313.2 479 C313.9 480.8 315.8 481.9 316.3 482.5"/>
<path class="l" d="M314.8 483.8 L315.6 501.7"/>
<path class="l" d="M320.9 481.3 L322.2 500.4"/>
<path class="l" d="M315.2 492 L321.5 490.5"/>
<path class="w" d="M314.1 501.7 L321.5 499.8 L324 506 L314.8 507.2Z"/>
<path class="l" d="M317 502.5 L318 506.5"/>
<path class="l" d="M320 501.5 L321 505.8"/>
<path class="l" d="M314.8 504.1 C314.1 504.1 310.6 504.2 309.2 504.1 C307.8 504 305.4 503.8 304.3 503.3 C303.2 502.8 301.8 500.8 301 500 C300.2 499.2 299.2 497.8 298.5 497.6 C297.8 497.4 297.3 497.4 295.6 498.3 C293.9 499.2 288.4 502.6 285.7 504.1 C283 505.6 277.6 508.3 275 509.5 C272.4 510.7 267.2 512.9 266 513.4" style="stroke-width:2.6"/>
<path class="l" d="M314.8 504.1 C314.1 504.1 310.6 504.2 309.2 504.1 C307.8 504 305.4 503.8 304.3 503.3 C303.2 502.8 301.8 500.8 301 500 C300.2 499.2 299.2 497.8 298.5 497.6 C297.8 497.4 297.3 497.4 295.6 498.3 C293.9 499.2 288.4 502.6 285.7 504.1 C283 505.6 277.6 508.3 275 509.5 C272.4 510.7 267.2 512.9 266 513.4" style="stroke:#fff;stroke-width:0.9"/>
<path class="w" d="M253.6 520.2 L258.6 515.2 L263.5 514 L266 516.5 L258.6 523.9 L254.3 523.3Z"/>
<path class="l" d="M258.6 515.2 L260.8 518 L266 516.5"/>
<path class="l" d="M260.8 518 L258.6 523.9"/>
<path class="l" d="M261.7 514.5 L262 510.5 L264.3 511.5 L264.8 515"/>
<path class="d" d="M284.5 519 L323.4 508.5"/>
<g transform="translate(289.5 533.0) rotate(214.0)">
<path d="M2 0H10.0" style="fill:none;stroke:#111;stroke-width:4.6;stroke-linecap:round"/>
<path d="M2 0H10.0" style="fill:none;stroke:#fff;stroke-width:2.4;stroke-linecap:round"/>
<path d="M4.2 0H10.0" style="fill:none;stroke:#111;stroke-width:4.6;stroke-dasharray:1 1.5"/>
<ellipse class="w" cx="0.5" cy="0" rx="3.3" ry="5.6" style="stroke-width:1.7"/>
<ellipse class="w" cx="-2.2" cy="0" rx="3.8" ry="4.3" style="stroke-width:1.6"/>
<ellipse class="w" cx="-4.2" cy="0" rx="3.3" ry="3.4" style="stroke-width:1.3"/>
</g>
<path class="w" d="M346.3 497.1 C346.4 495.9 347.3 494.9 348.5 494.3 C349.7 493.7 354.8 492.2 356.2 492.1 C357.6 492 359.5 492.7 360.1 493.8 C360.7 494.9 361.3 499.8 361.2 501.5 C361.1 503.2 359.8 507.5 359 508.6 C358.2 509.7 355 511.1 354 511.3 C353 511.5 351.5 511 350.7 510.2 C349.9 509.4 347.9 506.3 347.4 504.8 C346.9 503.3 346.2 498.3 346.3 497.1Z"/>
<path class="l" d="M348.8 496.3 C349.3 495.9 355.7 494 356.5 493.9 C357.3 493.8 359 494.9 358.5 495.3 C358 495.7 351.1 498.2 350.3 498.3 C349.5 498.4 348.3 496.7 348.8 496.3Z"/>
<path class="l" d="M348.8 499 C349 500.1 349.4 503.7 350 505.5 C350.6 507.3 352.1 509.2 352.5 510"/>
<path class="l" d="M353.5 511.3 L358.4 533.3"/>
<path class="l" d="M359 509.1 L363.9 531.1"/>
<path class="l" d="M355.3 520.5 L361.2 518.5"/>
<path class="w" d="M356.2 533.3 L363.9 530.6 L365 533.8 L357.9 537.1Z"/>
<path class="l" d="M359.5 532.5 L360.3 536"/>
<path class="l" d="M362 531.5 L362.8 535"/>
<path class="l" d="M357.3 534.9 C356.7 535 352.9 535.6 352 535.8 C351.1 536 349.9 536.6 349.6 537 C349.3 537.4 348.9 538.8 349.3 539.5 C349.7 540.2 352 542.5 352.9 543.2 C353.8 543.9 356.3 545.1 356.6 545.6 C356.9 546.1 356.8 546.5 355.1 547.6 C353.4 548.7 345.2 553.5 342 555.3 C338.8 557.1 329.4 562 327.7 562.9" style="stroke-width:2.6"/>
<path class="l" d="M357.3 534.9 C356.7 535 352.9 535.6 352 535.8 C351.1 536 349.9 536.6 349.6 537 C349.3 537.4 348.9 538.8 349.3 539.5 C349.7 540.2 352 542.5 352.9 543.2 C353.8 543.9 356.3 545.1 356.6 545.6 C356.9 546.1 356.8 546.5 355.1 547.6 C353.4 548.7 345.2 553.5 342 555.3 C338.8 557.1 329.4 562 327.7 562.9" style="stroke:#fff;stroke-width:0.9"/>
<path class="w" d="M315.1 569.3 L318.4 564.4 L323.8 564.4 L326.2 566.4 L320.4 573.6 L315.5 572.2Z"/>
<path class="l" d="M318.4 564.4 L320.8 568 L326.2 566.4"/>
<path class="l" d="M320.8 568 L320.4 573.6"/>
<path class="l" d="M323 564.3 L323.3 560 L326 561 L327 564.5"/>
<path class="l" d="M342 522.9 L346.3 524.5"/>
<path class="d" d="M350.2 527.3 L356.2 530.6"/>
<path class="d" d="M342 522.9 L342 615.5"/>
<path class="d" d="M330.1 608.5 L342 615.5" style="stroke-dasharray:5 3"/>
<g transform="translate(315.0 602.0) rotate(24.0)">
<path d="M2 0H12.0" style="fill:none;stroke:#111;stroke-width:4.6;stroke-linecap:round"/>
<path d="M2 0H12.0" style="fill:none;stroke:#fff;stroke-width:2.4;stroke-linecap:round"/>
<path d="M4.2 0H12.0" style="fill:none;stroke:#111;stroke-width:4.6;stroke-dasharray:1 1.5"/>
<path class="l" d="M1.5 -5.6A3 5.6 0 0 0 1.5 5.6" style="stroke-width:1.7"/>
<path class="l" d="M3.5 -4.4A3 4.4 0 0 0 3.5 4.4" style="stroke-width:1.3"/>
</g>
<g style="stroke-width:1.45">
<path class="w" d="M579.7 507.2 C579.7 508.1 579.3 514.6 579.7 516 C580.1 517.4 582.7 520.8 583.5 521.5 C584.3 522.2 587 523.3 587.9 523.1 C588.8 522.9 592 520.8 592.9 519.8 C593.8 518.8 596.5 513.2 597.3 512.7 C598.1 512.2 600.1 513.8 601.1 514.3 C602.1 514.8 606.9 517.5 607.7 517.6 C608.5 517.7 609.1 516.2 609.3 514.9 C609.5 513.6 609.3 506 609.3 505"/>
<path class="l" d="M582 509.5 C582 510.1 581.9 514.9 582.4 516 C582.9 517.1 585.9 520.3 586.8 520.3 C587.7 520.3 590.7 517 591.5 516 C592.3 515 594.2 511.1 594.5 510.5"/>
<circle class="l" cx="587.3" cy="518.6" r="1"/>
<path class="l" d="M601.1 514.3 L601.1 508"/>
<path class="l" d="M605.5 516.5 L605.5 506.5"/>
<path class="w" d="M574.8 488 C574.7 486 577.3 484.1 578.1 483.6 C578.9 483.1 583.4 482.4 584.6 482.5 C585.8 482.6 591 485 592.3 485.2 C593.6 485.4 599.3 485 600 484.7 C600.7 484.4 600.7 481.8 601.1 481.4 C601.5 481 603.8 480.2 604.4 480.3 C605 480.4 608.1 481.4 608.8 482 C609.5 482.6 612.7 486.4 613.2 487.4 C613.7 488.4 614.8 493 614.8 494 C614.8 495 614 498.7 613.7 499.5 C613.4 500.3 611.4 503.5 611 503.9 C610.6 504.3 610.5 503.9 608.8 504.5 C607.1 505.1 592.4 510.6 590.7 511 C589 511.4 588.8 509.7 587.9 509.4 C587 509.1 580.8 509 579.7 507.2 C578.6 505.4 574.9 490 574.8 488Z"/>
<path class="l" d="M608.5 484.5 C609 485.4 610.9 488.1 611.5 490 C612.1 491.9 612.2 494.1 612 496 C611.8 497.9 610.8 500.6 610.5 501.5"/>
<path class="w" d="M592.3 485.2 C592.4 484.3 592.6 478.9 592.9 477.6 C593.2 476.3 594.1 474.3 594.5 473.7 C594.9 473.1 596.2 472.5 596.7 472.6 C597.2 472.7 598.2 473.8 598.4 474.8 C598.6 475.8 598.2 479.7 598.4 480.9 C598.6 482.1 599.8 484.3 600 484.7"/>
<path class="l" d="M596.8 475.3 C596.6 475.5 595.6 475.8 595.4 476.3 C595.2 476.8 595.7 478.1 595.8 478.5"/>
<path class="l" d="M578.6 485.2 L587.9 490.2"/>
<path class="l" d="M581.9 483.6 L591.2 489.1 L606 485.8"/>
<path d="M587.9 490.7V509.4L590.7 511V491.8Z" fill="#222" stroke="#111" stroke-width="1"/>
<path class="l" d="M590.7 491.8 L606.6 488 L607.1 503.9 L590.7 508.5"/>
<path class="l" d="M592.3 494 L603.3 491.3 L603.8 498.4 L592.3 502.3Z"/>
<path class="l" d="M592.3 502.3 L592.3 505.5 L603.8 501.8 L603.8 498.4"/>
<path class="l" d="M609.3 489.5 L609.5 503.5"/>
<path class="l" d="M578.6 487.4 C579.4 487.8 582.2 488.1 583.5 489.6 C584.8 491.1 586 493.8 586.3 496.2 C586.6 498.6 585.9 501.9 585.2 503.9 C584.5 505.9 582.5 507.6 581.9 508.3"/>
<path class="w" d="M572 496.2 C572 494.8 572.6 492.7 573.1 491.8 C573.6 490.9 575 489.7 575.9 489.6 C576.8 489.5 579.3 489.8 580.2 490.7 C581.1 491.6 582.7 494.6 583 496.2 C583.3 497.8 582.8 501.4 582.4 502.8 C582 504.2 580.6 506.3 579.7 506.7 C578.8 507.1 576.8 506.7 575.9 506.1 C575 505.5 573.6 503.6 573.1 502.3 C572.6 501 572 497.6 572 496.2Z"/>
</g>
<path class="d" d="M568.1 461.7 L585.6 472"/>
<g transform="translate(554.0 455.5) rotate(36.0)">
<path d="M2 0H13.0" style="fill:none;stroke:#111;stroke-width:4.7;stroke-linecap:round"/>
<path d="M2 0H13.0" style="fill:none;stroke:#fff;stroke-width:2.5;stroke-linecap:round"/>
<path d="M4.2 0H13.0" style="fill:none;stroke:#111;stroke-width:4.7;stroke-dasharray:1 1.5"/>
<ellipse class="w" cx="0.5" cy="0" rx="3.3" ry="5.8" style="stroke-width:1.7"/>
<ellipse class="w" cx="-2.2" cy="0" rx="3.8" ry="4.5" style="stroke-width:1.6"/>
<ellipse class="w" cx="-4.2" cy="0" rx="3.3" ry="3.6" style="stroke-width:1.3"/>
</g>
<path class="d" d="M573.9 510.2 L573.9 524.2 L634 559.6 L634 575.2 L630.7 574.4"/>
<g transform="translate(614.5 566.3) rotate(31.0)">
<path d="M2 0H15.0" style="fill:none;stroke:#111;stroke-width:4.7;stroke-linecap:round"/>
<path d="M2 0H15.0" style="fill:none;stroke:#fff;stroke-width:2.5;stroke-linecap:round"/>
<path d="M4.2 0H15.0" style="fill:none;stroke:#111;stroke-width:4.7;stroke-dasharray:1 1.5"/>
<ellipse class="w" cx="0.5" cy="0" rx="3.3" ry="6.0" style="stroke-width:1.7"/>
<ellipse class="w" cx="-2.2" cy="0" rx="3.8" ry="4.7" style="stroke-width:1.6"/>
<ellipse class="w" cx="-4.2" cy="0" rx="3.3" ry="3.8" style="stroke-width:1.3"/>
</g>
<path class="d" d="M544.4 667 L557.4 675 L557.4 644.2 L561.7 645.4" style="stroke-dasharray:6 3"/>
<g transform="translate(523.0 657.0) rotate(36.0)">
<path d="M8.0 0H18.0" style="fill:none;stroke:#111;stroke-width:4.8;stroke-linecap:round"/>
<path d="M8.0 0H18.0" style="fill:none;stroke:#fff;stroke-width:2.6;stroke-linecap:round"/>
<path d="M9.0 0H18.0" style="fill:none;stroke:#111;stroke-width:4.8;stroke-dasharray:1 1.5"/>
<path class="w" d="M0 -3.6H8.0A1.6 3.6 0 0 1 8.0 3.6H0Z" style="stroke-width:1.4"/>
<ellipse class="w" cx="0.5" cy="0" rx="2.6" ry="5.8" style="stroke-width:1.6"/>
<ellipse class="w" cx="-2.3" cy="0" rx="3.6" ry="5.2" style="stroke-width:1.5"/>
<ellipse class="l" cx="-3.2" cy="0" rx="2.2" ry="3.4" style="stroke-width:1.1"/>
</g>
</g>
<g id="bottom">
<path class="d" d="M232.9 822.7 C234.6 820 237.9 810.9 242.8 806.2 C247.8 801.5 259.3 796.6 262.6 794.7" style="stroke-dasharray:6.5 3.5"/>
<path class="l" d="M262.6 794.7 C267 793.1 281.2 787.5 288.9 784.8 C296.6 782 305.3 779.3 308.6 778.2"/>
<path class="d" d="M308.6 778.2 C310.2 777.9 314.7 776.9 318 776.5 C321.3 776.1 326.7 776 328.4 775.9" style="stroke-dasharray:6.5 3.5"/>
<path class="d" d="M241.2 826 C242.6 824.1 244.8 818.2 249.4 814.4 C254.1 810.5 261.4 806.5 269.1 802.9 C276.8 799.3 287.3 796.3 295.5 793 C303.7 789.7 313.4 785.4 318.5 783.2 C323.6 781 324.8 780.5 326 780" style="stroke-dasharray:6.5 3.5"/>
<path class="w" d="M213.2 812.8 L223 808.8 L229.6 814.4 L232.5 820.5 L224.7 822.7 L214.8 817.7Z"/>
<path class="l" d="M219.5 813 L224 811.2 L226.5 814.5"/>
<path class="w" d="M224.7 830.9 C226.2 829.8 236.2 826.8 239.5 826 C242.8 825.2 250.8 823.9 252.7 824.3 C254.6 824.7 257.2 828 256 829.3 C254.8 830.6 245.7 834.7 242.8 835.8 C239.9 836.9 233.2 839.1 231.3 839.1 C229.4 839.1 227.1 836.8 226.3 835.8 C225.5 834.8 223.2 832 224.7 830.9Z"/>
<path class="d" d="M222 828 C222.3 829.3 222.5 833.8 224 836 C225.5 838.2 228.3 840.8 231 841.5 C233.7 842.2 238.5 840.2 240 840" style="stroke-dasharray:6.5 3.5"/>
<path class="l" d="M234 820 C234.3 821.3 235 825.8 236 828 C237 830.2 239.3 832.2 240 833"/>
<path class="l" d="M238 818.5 C238.3 819.8 239 823.9 240 826 C241 828.1 243.3 830.2 244 831"/>
<path class="l" d="M256.7 830.7 C258.2 831.4 262.3 833.9 265.6 835.1 C268.9 836.3 273.6 837.2 276.3 837.8 C279 838.4 280.8 838.6 281.7 838.7"/>
<path class="d" d="M281.7 838.7 C284.4 838.7 292.6 838.4 297.7 838.7 C302.8 839 307.8 839.6 312 840.5 C316.2 841.4 320.9 843.4 322.7 844" style="stroke-dasharray:6.5 3.5"/>
<path class="l" d="M242.4 836.9 C244.5 838.1 250.4 842.2 254.9 844 C259.4 845.8 264.4 846.9 269.2 847.6 C274 848.4 281.1 848.4 283.5 848.5"/>
<path class="d" d="M288.8 848.5 C291.5 848.8 300.1 849.3 304.9 850.3 C309.6 851.3 313.8 852.8 317.3 854.7 C320.8 856.6 324.6 860.4 326 861.5" style="stroke-dasharray:6.5 3.5"/>
<path class="l" d="M324.4 848.4 C326.2 847.4 332.1 843.1 335 842.4 C337.9 841.7 339.4 841.4 341.6 844.1 C343.8 846.9 345.4 853.1 348.1 858.9 C350.8 864.6 355.5 873.1 358 878.6 C360.5 884.1 361.9 888.2 363 891.8 C364.1 895.4 364.3 898.6 364.6 900"/>
<path class="l" d="M324.4 848.4 C325.1 850.7 326.4 857.7 328.4 862.2 C330.4 866.7 333.9 870.9 336.6 875.3 C339.4 879.7 343.2 884.9 344.9 888.5 C346.5 892.1 346.2 895.3 346.5 896.7"/>
<path class="l" d="M331.7 846.4 C332.8 849.6 335.3 859.3 338.3 865.5 C341.3 871.7 347.4 879 349.8 883.6 C352.2 888.2 352.5 891.4 353 893"/>
<path class="l" d="M346.5 896.7 L363 891.8"/>
<path class="l" d="M346.5 896.7 C347.1 898.6 348.4 905.5 349.8 908.3 C351.2 911 352.2 912.7 354.7 913.2 C357.2 913.8 362.4 913 364.6 911.6 C366.8 910.2 367.9 906.9 367.9 905 C367.9 903.1 365.2 900.8 364.6 900"/>
<circle class="l" cx="361.3" cy="905.6" r="3.3"/><circle class="l" cx="361.3" cy="905.6" r="1.2"/>
<ellipse class="w" cx="278.5" cy="822" rx="7" ry="3.2"/>
<path class="l" d="M271.5 822 C271.7 821.4 271.4 819.1 272.6 818.3 C273.8 817.5 276.5 817 278.5 817 C280.5 817 283.2 817.5 284.4 818.3 C285.6 819.1 285.3 821.4 285.5 822"/>
<path class="l" d="M275.8 824.8 L277.6 831.5 L279.2 831.5 L281 824.8"/>
<path class="l" d="M278.4 835.5 L278.4 840.8"/>
<path class="l" d="M278.4 849 L278.4 857.2"/>
<ellipse class="l" cx="278.4" cy="840.6" rx="2" ry="0.9"/>
<path class="w" d="M271.8 861.5V866A6.6 3 0 0 0 285 866V861.5"/>
<ellipse class="w" cx="278.4" cy="861.5" rx="6.6" ry="3"/>
<ellipse class="l" cx="278.4" cy="861.5" rx="2.4" ry="1"/>
<path class="l" d="M373.5 776.6 C372.9 780 370.9 790.3 370 797 C369.1 803.7 368.4 813.3 368.1 816.6"/>
<path class="l" d="M389.3 776.6 C388.8 780 387.3 790.9 386.5 797 C385.7 803.1 384.9 810.5 384.6 813.2"/>
<path class="l" d="M368.1 816.6 L384.6 813.2"/>
<path class="l" d="M365.4 815.3 L385.3 809.1 L407.2 824.9 L411.3 830.4 L411.3 863.3"/>
<path class="d" d="M411.3 863.3 C410.6 864.3 411.5 867.9 407.2 869.5 C402.9 871.1 388.9 872.3 385.3 872.9" style="stroke-dasharray:6.5 3.5"/>
<path class="l" d="M408.6 822.8 C409.6 824.1 413.4 827.5 414.8 830.4 C416.2 833.3 416.8 837 416.8 840 C416.8 843 415.7 846.4 414.8 848.2 C413.9 850 412.1 850.5 411.5 851"/>
<path class="l" d="M386.6 840 L411.3 834.5"/>
<path class="l" d="M385.3 826.2 L400.4 822.8"/>
<path class="d" d="M390.8 833.1 L405.8 829.7" style="stroke-dasharray:6.5 3.5"/>
<path class="l" d="M408.5 836 L408.5 862"/>
<path class="w" d="M360.6 816.6 C361 814.9 363.3 814 365.4 815.3 C367.5 816.6 383.5 829.9 385.3 831.7 C387.1 833.5 387.1 835.9 387.3 837.2 C387.5 838.5 388.2 844.5 388 846.8 C387.8 849.1 386.3 862.5 385.3 864.7 C384.3 866.9 377 871.9 375.7 872.9 C374.4 873.9 370.4 876.2 369.5 876.3 C368.6 876.4 366.5 875.2 365.4 874.3 C364.3 873.4 357.3 867.7 356.5 866 C355.7 864.3 355.6 855 355.8 853.7 C356 852.4 358.1 852.4 358.5 850.9 C358.9 849.4 360.4 838.7 360.6 835.8 C360.8 832.9 360.2 818.3 360.6 816.6Z"/>
<path class="l" d="M363.5 818.5 C365.1 819.8 381.2 831.7 383 834 C384.8 836.3 385 843.6 385 846 C385 848.4 383.4 860.5 382.5 862.5 C381.6 864.5 374.7 869.8 374 870.5"/>
<ellipse class="w" cx="369.5" cy="846.6" rx="10" ry="12" style="stroke-width:1.4"/>
<ellipse class="l" cx="367.6" cy="846.8" rx="7" ry="8.8"/>
<ellipse class="w" cx="364.9" cy="846.8" rx="3.8" ry="4.8" style="stroke-width:1.4"/>
<ellipse class="l" cx="366.8" cy="846.8" rx="4" ry="5"/>
<circle class="l" cx="375" cy="832.5" r="1.2"/>
<path class="l" d="M370 840 L372 836.5 L374.5 839.5"/>
<path class="l" d="M371 846 L376 845"/>
<path class="l" d="M370 852 L373 855 L375 851"/>
<path class="l" d="M355.8 853.7 L355.8 866 L365.4 874.3 L365.4 866 L369.5 868.8 L369.5 876.3"/>
<path class="w" d="M355.8 853.7 L358.5 850.9 L362 855 L365.4 866"/>
<path class="l" d="M369.5 868.8 L373.6 866.5 L373.6 874.5"/>
<path class="l" d="M361.3 824.5 L365.4 824 L365.4 830 L361.3 830.5"/>
<path class="l" d="M368.8 822 L372.9 824.5 L372.9 830.5 L368.8 829Z"/>
</g>
<g id="ellipse">
<path class="l" d="M372.4 473.5 C381 473.8 390.1 475 398.3 477.3 C406.5 479.6 414.8 483.6 421.3 487.4 C427.8 491.2 432.9 495.3 437.2 500.3 C441.5 505.3 445.1 511.8 447.3 517.6 C449.6 523.4 450.5 529.6 450.7 534.9 C450.9 540.2 450.5 544 448.7 549.3 C446.9 554.6 444.2 561.1 440.1 566.6 C436 572.1 430.2 577.8 424.2 582.4 C418.2 587 411.2 590.9 404 594 C396.8 597.1 389.1 599.7 381 601.2 C372.9 602.7 363.3 603.5 355.1 603.2 C346.9 603 339.7 601.7 332 599.7 C324.3 597.7 316.2 594.9 309 591.1 C301.8 587.3 294.3 582.2 288.8 576.7 C283.3 571.2 278.6 564.5 275.8 558 C273 551.5 271.6 544.5 272.1 537.8 C272.6 531.1 274.9 524.1 278.7 517.6 C282.4 511.1 288.1 504.4 294.6 498.9 C301.1 493.4 309 488.4 317.6 484.5 C326.2 480.6 337.3 477.6 346.4 475.8 C355.5 474 363.8 473.2 372.4 473.5Z" style="stroke:#000;stroke-width:4.3"/>
</g>
<g id="leaders" class="l" style="stroke:#3d3d3d;stroke-width:1.6;stroke-linecap:butt">
<path d="M123 173V203"/>
<path d="M137 263V295"/>
<path d="M172.8 284V313"/>
<path d="M201.8 414V444"/>
<path d="M226.5 517.1H254"/>
<path d="M256 535.2H285.5"/>
<path d="M317.5 609.5V637.5"/>
<path d="M519.6 453.5H550.5"/>
<path d="M544.3 497.2H575"/>
<path d="M362.3 517.7H388.6"/>
<path d="M617.7 572V600.5"/>
<path d="M531.2 664.7V692"/>
</g>
<g id="labels" class="num">
<text x="73" y="170" font-size="17.2" textLength="81.5" lengthAdjust="spacingAndGlyphs">91673-80616</text>
<text x="112.3" y="311.4" font-size="18.3" textLength="42.3" lengthAdjust="spacingAndGlyphs">73210</text>
<text x="120" y="328.3" font-size="17.2" textLength="79.5" lengthAdjust="spacingAndGlyphs">90105-11053</text>
<text x="152.8" y="461" font-size="17.2" textLength="80.6" lengthAdjust="spacingAndGlyphs">90109-11060</text>
<text x="172.6" y="522.5" font-size="18.3" textLength="41.5" lengthAdjust="spacingAndGlyphs">73230</text>
<text x="154.3" y="541" font-size="17.2" textLength="80.8" lengthAdjust="spacingAndGlyphs">90901-19040</text>
<text x="267.7" y="653" font-size="17.2" textLength="80.8" lengthAdjust="spacingAndGlyphs">90901-19040</text>
<text x="414.6" y="460.1" font-size="17.2" textLength="81" lengthAdjust="spacingAndGlyphs">91673-80616</text>
<text x="492.4" y="503.6" font-size="18.3" textLength="41.3" lengthAdjust="spacingAndGlyphs">73220</text>
<text x="392.4" y="525" font-size="18.3" textLength="41.5" lengthAdjust="spacingAndGlyphs">73240</text>
<text x="569.5" y="616" font-size="17.2" textLength="79.5" lengthAdjust="spacingAndGlyphs">90105-11053</text>
<text x="481.6" y="707.2" font-size="17.2" textLength="80.3" lengthAdjust="spacingAndGlyphs">90109-11060</text>
<text x="132.9" y="850.8" font-size="18.3" textLength="41.7" lengthAdjust="spacingAndGlyphs">73219</text>
<text x="642.5" y="987" font-size="14.5" textLength="50.6" lengthAdjust="spacingAndGlyphs">716709C</text>
</g>
<g id="notes">
<text class="jp" x="98.4" y="743.9" font-size="14.3" textLength="162.4" lengthAdjust="spacing">車両取付部の補修用部品</text>
<text class="jp" style="stroke:none" text-anchor="middle" font-size="12.6" y="759.6" x="102.0 108.7 115.5 122.2 129.0 135.7 142.5 149.2 155.9 162.7 169.4 176.2 182.9 189.7 196.4 203.2 209.9 216.7 223.4 230.2 236.9 243.6 250.4 257.1 263.9 270.6 277.4 284.1 290.9 297.6 304.4 311.1 317.9 324.6 331.3 338.1 344.8 351.6 358.3 365.1 371.8 378.6 385.3 392.1 398.8 405.6 412.3 419.0 425.8 432.5 439.3 446.0 452.8 459.5">Special service parts for when only stopper is broken.</text>
<path class="l" d="M97.8 772V765.6H631.9V773.3"/>
<ellipse cx="125" cy="844.6" rx="5.8" ry="6.2" fill="#000"/>
<ellipse cx="555.4" cy="927.5" rx="5.6" ry="6" fill="#000"/>
<ellipse cx="555.4" cy="945.6" rx="5.6" ry="6" fill="#000"/>
<text class="jp" x="566.5" y="933.3" font-size="13.5" textLength="96.6" lengthAdjust="spacing">再使用不可部品</text>
<text class="jp" x="566.7" y="949.5" font-size="12.4" textLength="105.4" lengthAdjust="spacingAndGlyphs">Non-reusable part</text>
<path class="l" d="M271.5 823.9H196.8V861.8H271.5M190.5 843.1H196.8"/>
</g>
</svg>
</body>
</html>
